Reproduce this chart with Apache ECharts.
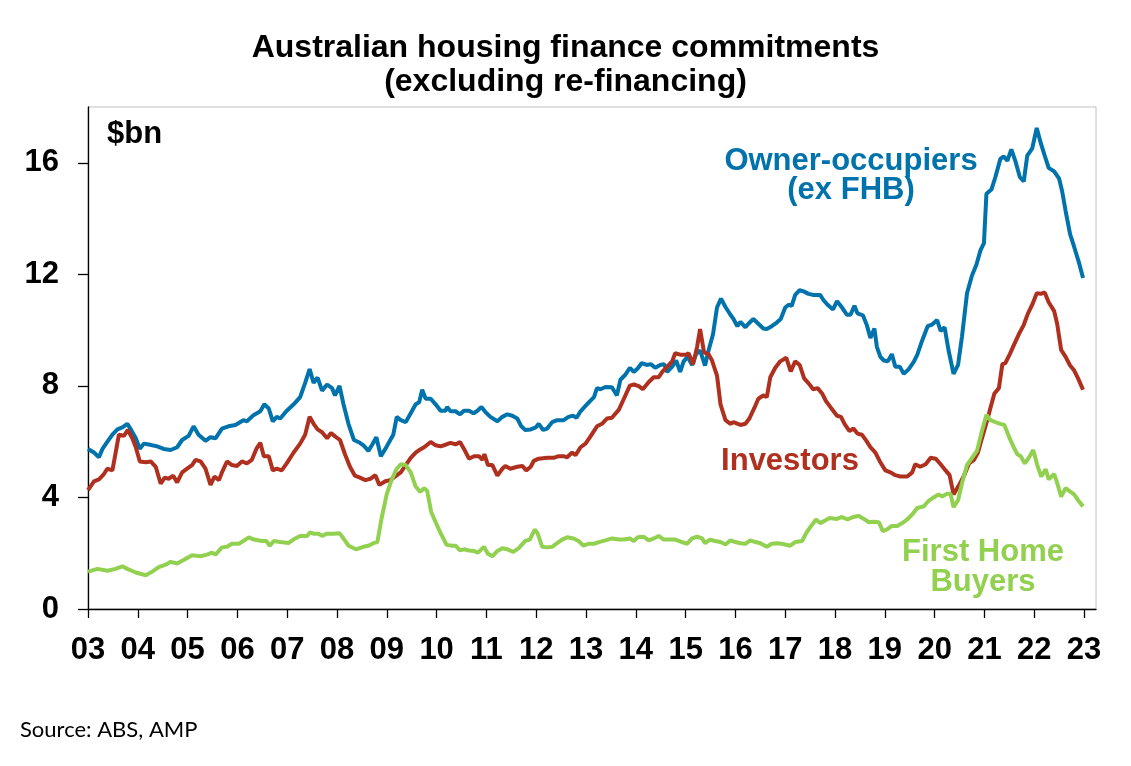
<!DOCTYPE html>
<html>
<head>
<meta charset="utf-8">
<script src="https://cdn.jsdelivr.net/npm/echarts@6/dist/echarts.min.js"></script>
<style>
html,body{margin:0;padding:0;background:#fff;}
#c{width:1131px;height:766px;}
</style>
</head>
<body>
<div id="c"></div>
<script>
// Decimal-year dates and values ($bn)
const ownerDates = [2003.00,2003.12,2003.22,2003.29,2003.39,2003.49,2003.59,2003.69,2003.79,2003.86,2003.96,2004.04,2004.12,2004.22,2004.39,2004.52,2004.66,2004.79,2004.89,2005.02,2005.12,2005.22,2005.36,2005.46,2005.56,2005.69,2005.82,2005.96,2006.12,2006.19,2006.33,2006.46,2006.54,2006.63,2006.71,2006.79,2006.86,2006.99,2007.13,2007.26,2007.36,2007.45,2007.53,2007.61,2007.70,2007.80,2007.90,2007.96,2008.05,2008.13,2008.23,2008.34,2008.46,2008.53,2008.63,2008.70,2008.79,2008.88,2008.97,2009.07,2009.13,2009.20,2009.28,2009.38,2009.48,2009.58,2009.65,2009.71,2009.78,2009.88,2009.98,2010.08,2010.18,2010.21,2010.28,2010.38,2010.47,2010.55,2010.65,2010.74,2010.82,2010.90,2010.98,2011.08,2011.22,2011.32,2011.42,2011.52,2011.62,2011.70,2011.78,2011.89,2011.99,2012.05,2012.14,2012.22,2012.32,2012.42,2012.55,2012.65,2012.74,2012.81,2012.89,2012.99,2013.09,2013.16,2013.22,2013.29,2013.39,2013.52,2013.62,2013.69,2013.79,2013.88,2013.96,2014.04,2014.12,2014.22,2014.30,2014.39,2014.49,2014.57,2014.63,2014.73,2014.81,2014.89,2014.96,2015.04,2015.13,2015.21,2015.29,2015.39,2015.46,2015.55,2015.63,2015.71,2015.80,2015.90,2015.96,2016.04,2016.10,2016.20,2016.26,2016.36,2016.46,2016.56,2016.63,2016.73,2016.83,2016.91,2017.00,2017.07,2017.13,2017.20,2017.29,2017.37,2017.47,2017.57,2017.70,2017.77,2017.85,2017.96,2018.04,2018.14,2018.24,2018.31,2018.39,2018.45,2018.56,2018.64,2018.71,2018.79,2018.84,2018.91,2018.98,2019.06,2019.14,2019.21,2019.30,2019.38,2019.48,2019.58,2019.65,2019.75,2019.86,2019.95,2020.05,2020.12,2020.20,2020.28,2020.38,2020.47,2020.55,2020.65,2020.75,2020.84,2020.92,2020.99,2021.04,2021.14,2021.22,2021.32,2021.39,2021.46,2021.54,2021.62,2021.71,2021.79,2021.86,2021.96,2022.05,2022.13,2022.21,2022.29,2022.40,2022.50,2022.56,2022.63,2022.72,2022.80,2022.90,2022.98];
const ownerValues = [5.74,5.61,5.44,5.74,6.00,6.25,6.44,6.51,6.64,6.44,6.12,5.74,5.93,5.90,5.83,5.74,5.70,5.80,6.06,6.21,6.55,6.25,6.03,6.16,6.12,6.47,6.55,6.60,6.77,6.73,6.96,7.09,7.34,7.19,6.73,6.89,6.83,7.11,7.34,7.60,8.11,8.60,8.11,8.30,7.83,8.05,7.92,7.66,8.00,7.34,6.64,6.06,5.96,5.87,5.67,5.87,6.16,5.48,5.74,6.06,6.25,6.89,6.77,6.70,7.02,7.34,7.41,7.86,7.54,7.54,7.34,7.11,7.11,7.24,7.09,7.09,6.98,7.11,7.11,7.02,7.11,7.24,7.06,6.89,6.73,6.89,6.98,6.93,6.83,6.55,6.42,6.44,6.51,6.64,6.42,6.47,6.70,6.77,6.77,6.89,6.93,6.86,7.09,7.28,7.47,7.60,7.92,7.88,7.96,7.95,7.66,8.22,8.40,8.65,8.50,8.63,8.82,8.75,8.78,8.65,8.75,8.78,8.50,8.69,8.91,8.50,8.88,9.04,8.75,9.14,9.27,8.73,9.27,9.85,10.81,11.13,10.83,10.55,10.40,10.14,10.30,10.10,10.23,10.40,10.23,10.06,10.04,10.14,10.27,10.40,10.81,10.91,10.87,11.26,11.43,11.39,11.30,11.26,11.26,11.07,10.91,10.74,11.04,10.81,10.55,10.55,10.87,10.60,10.53,10.17,9.72,10.06,9.40,9.04,8.91,8.88,9.14,8.69,8.69,8.43,8.60,8.86,9.11,9.63,10.14,10.20,10.36,9.97,10.10,9.27,8.43,8.75,9.78,11.32,11.96,12.35,12.86,13.12,14.89,15.04,15.49,16.14,16.23,16.07,16.48,16.07,15.49,15.33,16.26,16.52,17.25,16.71,16.26,15.82,15.69,15.43,14.98,14.27,13.44,12.99,12.41,11.87];

const investorDates = [2003.00,2003.12,2003.22,2003.32,2003.39,2003.49,2003.55,2003.62,2003.72,2003.80,2003.89,2003.96,2004.04,2004.16,2004.26,2004.36,2004.46,2004.54,2004.62,2004.71,2004.79,2004.89,2004.99,2005.09,2005.16,2005.26,2005.36,2005.46,2005.54,2005.63,2005.69,2005.79,2005.89,2005.99,2006.09,2006.19,2006.29,2006.38,2006.46,2006.53,2006.63,2006.71,2006.79,2006.89,2006.99,2007.13,2007.26,2007.36,2007.45,2007.53,2007.61,2007.70,2007.80,2007.88,2007.96,2008.06,2008.16,2008.26,2008.36,2008.46,2008.57,2008.67,2008.77,2008.85,2008.97,2009.07,2009.19,2009.28,2009.38,2009.48,2009.58,2009.65,2009.75,2009.88,2009.98,2010.08,2010.18,2010.28,2010.38,2010.47,2010.55,2010.65,2010.75,2010.85,2010.92,2010.96,2011.03,2011.12,2011.22,2011.32,2011.38,2011.48,2011.62,2011.72,2011.80,2011.89,2011.95,2012.05,2012.22,2012.35,2012.45,2012.55,2012.62,2012.72,2012.79,2012.89,2012.99,2013.09,2013.22,2013.32,2013.42,2013.52,2013.66,2013.76,2013.88,2013.96,2014.06,2014.14,2014.26,2014.36,2014.46,2014.53,2014.63,2014.73,2014.79,2014.89,2015.01,2015.06,2015.15,2015.23,2015.29,2015.37,2015.46,2015.53,2015.63,2015.70,2015.80,2015.90,2015.96,2016.10,2016.20,2016.28,2016.38,2016.46,2016.56,2016.63,2016.70,2016.80,2016.90,2017.02,2017.11,2017.20,2017.29,2017.38,2017.47,2017.56,2017.65,2017.74,2017.82,2017.92,2018.04,2018.12,2018.19,2018.29,2018.37,2018.45,2018.54,2018.63,2018.71,2018.81,2018.90,2019.01,2019.11,2019.21,2019.31,2019.45,2019.55,2019.61,2019.71,2019.82,2019.92,2020.02,2020.12,2020.22,2020.30,2020.38,2020.49,2020.59,2020.69,2020.79,2020.87,2020.95,2021.05,2021.12,2021.20,2021.29,2021.36,2021.42,2021.51,2021.59,2021.69,2021.79,2021.87,2021.96,2022.05,2022.13,2022.21,2022.29,2022.40,2022.46,2022.54,2022.63,2022.72,2022.80,2022.88,2022.98];
const investorValues = [4.26,4.58,4.65,4.84,5.03,4.97,5.55,6.25,6.21,6.42,6.12,5.80,5.29,5.26,5.29,5.10,4.49,4.71,4.67,4.78,4.54,4.90,5.03,5.16,5.35,5.29,5.03,4.45,4.75,4.62,4.90,5.29,5.16,5.13,5.29,5.22,5.35,5.74,5.96,5.48,5.48,4.97,5.03,4.97,5.22,5.61,5.93,6.25,6.89,6.64,6.44,6.34,6.12,6.31,6.19,6.06,5.55,5.10,4.78,4.71,4.62,4.67,4.80,4.45,4.58,4.62,4.78,4.90,5.16,5.42,5.61,5.70,5.80,5.99,5.87,5.83,5.89,5.96,5.90,5.99,5.74,5.39,5.48,5.48,5.35,5.55,5.16,5.16,4.78,5.03,5.13,5.03,5.10,5.13,4.97,5.10,5.31,5.39,5.42,5.42,5.48,5.48,5.44,5.61,5.52,5.80,5.93,6.19,6.55,6.64,6.83,6.86,7.15,7.54,8.01,8.05,7.99,7.88,8.14,8.31,8.31,8.50,8.69,8.88,9.17,9.12,9.12,9.17,8.78,9.40,10.04,9.20,9.14,8.91,8.37,7.34,6.77,6.64,6.70,6.60,6.64,6.83,7.21,7.54,7.66,7.60,8.31,8.65,8.88,9.01,8.52,8.88,8.75,8.27,8.09,7.88,7.92,7.73,7.45,7.21,6.93,6.89,6.64,6.38,6.47,6.29,6.25,6.03,5.80,5.61,5.29,4.97,4.90,4.80,4.75,4.75,4.90,5.19,5.10,5.19,5.42,5.39,5.19,4.97,4.80,4.11,4.45,4.78,5.22,5.35,5.61,6.12,6.73,7.21,7.73,7.92,8.78,8.82,9.14,9.46,9.85,10.19,10.58,10.91,11.32,11.30,11.35,11.00,10.68,10.23,9.29,9.04,8.73,8.56,8.27,7.86];

const fhbDates = [2003.00,2003.19,2003.39,2003.55,2003.69,2003.79,2003.96,2004.16,2004.29,2004.42,2004.56,2004.66,2004.79,2004.92,2005.09,2005.26,2005.39,2005.49,2005.56,2005.69,2005.79,2005.89,2006.03,2006.12,2006.23,2006.33,2006.49,2006.58,2006.65,2006.73,2006.86,2007.03,2007.16,2007.26,2007.40,2007.46,2007.53,2007.63,2007.70,2007.80,2007.93,2008.05,2008.13,2008.23,2008.38,2008.53,2008.63,2008.73,2008.81,2008.90,2009.00,2009.10,2009.20,2009.28,2009.38,2009.48,2009.58,2009.67,2009.75,2009.81,2009.89,2009.98,2010.08,2010.20,2010.31,2010.38,2010.47,2010.55,2010.65,2010.75,2010.83,2010.95,2011.03,2011.12,2011.22,2011.32,2011.42,2011.54,2011.65,2011.78,2011.87,2011.97,2012.03,2012.12,2012.22,2012.32,2012.42,2012.52,2012.62,2012.75,2012.85,2012.95,2013.05,2013.16,2013.26,2013.39,2013.52,2013.66,2013.76,2013.88,2013.96,2014.04,2014.16,2014.26,2014.36,2014.46,2014.56,2014.69,2014.79,2014.93,2015.03,2015.13,2015.23,2015.33,2015.39,2015.49,2015.59,2015.70,2015.80,2015.90,2016.00,2016.10,2016.20,2016.30,2016.40,2016.50,2016.63,2016.73,2016.83,2016.93,2017.10,2017.20,2017.34,2017.42,2017.52,2017.62,2017.70,2017.80,2017.89,2018.04,2018.14,2018.25,2018.37,2018.47,2018.58,2018.68,2018.78,2018.88,2018.96,2019.04,2019.14,2019.25,2019.35,2019.45,2019.55,2019.65,2019.78,2019.88,2019.98,2020.08,2020.15,2020.25,2020.32,2020.38,2020.47,2020.55,2020.65,2020.75,2020.85,2020.95,2021.04,2021.12,2021.22,2021.32,2021.40,2021.49,2021.58,2021.66,2021.73,2021.81,2021.89,2021.98,2022.06,2022.14,2022.23,2022.29,2022.40,2022.46,2022.54,2022.63,2022.73,2022.80,2022.88,2022.98];
const fhbValues = [1.34,1.44,1.37,1.44,1.53,1.44,1.31,1.21,1.34,1.50,1.59,1.69,1.63,1.76,1.93,1.89,1.95,2.02,1.95,2.21,2.23,2.34,2.34,2.44,2.57,2.49,2.44,2.44,2.27,2.44,2.40,2.37,2.53,2.62,2.62,2.75,2.70,2.70,2.62,2.70,2.70,2.72,2.53,2.27,2.14,2.23,2.27,2.36,2.40,3.30,4.13,4.65,5.03,5.19,5.16,4.90,4.39,4.20,4.33,4.24,3.49,3.11,2.72,2.30,2.27,2.27,2.10,2.14,2.10,2.08,2.02,2.23,1.98,1.89,2.08,2.18,2.14,2.05,2.18,2.44,2.49,2.85,2.70,2.23,2.21,2.23,2.36,2.49,2.57,2.53,2.44,2.27,2.34,2.34,2.40,2.46,2.53,2.49,2.49,2.53,2.44,2.57,2.59,2.46,2.53,2.62,2.49,2.49,2.49,2.40,2.34,2.53,2.59,2.53,2.36,2.49,2.44,2.40,2.31,2.46,2.40,2.36,2.34,2.46,2.40,2.36,2.23,2.34,2.36,2.34,2.27,2.40,2.44,2.72,2.98,3.21,3.08,3.17,3.26,3.23,3.30,3.21,3.30,3.34,3.23,3.11,3.13,3.11,2.79,2.85,2.98,2.98,3.08,3.21,3.39,3.62,3.68,3.88,4.00,4.11,4.03,4.13,4.13,3.65,3.90,4.52,5.16,5.42,5.67,6.38,6.96,6.77,6.70,6.64,6.60,6.19,5.83,5.55,5.48,5.22,5.42,5.70,5.16,4.75,5.01,4.65,4.84,4.52,4.03,4.33,4.20,4.11,3.90,3.68];

const yearTicks = [2003,2004,2005,2006,2007,2008,2009,2010,2011,2012,2013,2014,2015,2016,2017,2018,2019,2020,2021,2022,2023];
const valueTicks = [0,4,8,12,16];

const pairs = (d, v) => d.map((x, i) => [x, v[i]]);

const BLUE = '#0072AC', RED = '#B0301F', GREEN = '#92D050';
const FONT = 'Liberation Sans, Arial, sans-serif';

const chart = echarts.init(document.getElementById('c'), null, {renderer: 'canvas'});
chart.setOption({
  backgroundColor: '#fff',
  animation: false,
  title: {
    text: 'Australian housing finance commitments\n(excluding re-financing)',
    left: 'center', top: 26,
    textStyle: {fontFamily: FONT, fontWeight: 'bold', fontSize: 32, lineHeight: 34, color: '#000'}
  },
  grid: {left: 88, right: 35, top: 107, bottom: 157, show: true, borderColor: '#c0c0c0', borderWidth: 1, containLabel: false},
  xAxis: {
    type: 'value', min: 2003, max: 2023.24, interval: 1,
    splitLine: {show: false},
    axisLine: {show: true, onZero: false, lineStyle: {color: '#000', width: 1.3}},
    axisTick: {show: true, inside: false, length: 9, customValues: yearTicks, lineStyle: {color: '#000', width: 1.3}},
    axisLabel: {
      customValues: yearTicks, margin: 26,
      fontFamily: FONT, fontWeight: 'bold', fontSize: 31, color: '#000',
      formatter: v => String(Math.round(v) % 100).padStart(2, '0')
    }
  },
  yAxis: {
    type: 'value', min: 0, max: 18, interval: 4,
    splitLine: {show: false},
    axisLine: {show: true, lineStyle: {color: '#000', width: 1.3}},
    axisTick: {show: true, inside: false, length: 10, customValues: valueTicks, lineStyle: {color: '#000', width: 1.3}},
    axisLabel: {customValues: valueTicks, margin: 29, fontFamily: FONT, fontWeight: 'bold', fontSize: 31, color: '#000'}
  },
  series: [
    {name: 'Owner-occupiers (ex FHB)', type: 'line', data: pairs(ownerDates, ownerValues), showSymbol: false, lineStyle: {color: BLUE, width: 4}, itemStyle: {color: BLUE}},
    {name: 'Investors', type: 'line', data: pairs(investorDates, investorValues), showSymbol: false, lineStyle: {color: RED, width: 4}, itemStyle: {color: RED}},
    {name: 'First Home Buyers', type: 'line', data: pairs(fhbDates, fhbValues), showSymbol: false, lineStyle: {color: GREEN, width: 4}, itemStyle: {color: GREEN}}
  ],
  graphic: [
    {type: 'text', left: 107, top: 119, style: {text: '$bn', fontFamily: FONT, fontWeight: 'bold', fontSize: 31, fill: '#000'}},
    {type: 'text', x: 851, y: 176, style: {text: 'Owner-occupiers\n(ex FHB)', fontFamily: FONT, fontWeight: 'bold', fontSize: 31, lineHeight: 29, fill: BLUE, align: 'center', verticalAlign: 'middle'}},
    {type: 'text', x: 790, y: 461, style: {text: 'Investors', fontFamily: FONT, fontWeight: 'bold', fontSize: 31, fill: RED, align: 'center', verticalAlign: 'middle'}},
    {type: 'text', x: 983, y: 567, style: {text: 'First Home\nBuyers', fontFamily: FONT, fontWeight: 'bold', fontSize: 31, lineHeight: 30, fill: GREEN, align: 'center', verticalAlign: 'middle'}},
    {type: 'text', left: 20, top: 719, style: {text: 'Source: ABS, AMP', fontFamily: 'Lato, Open Sans, sans-serif', fontSize: 22, fill: '#000'}}
  ]
});
</script>
</body>
</html>
